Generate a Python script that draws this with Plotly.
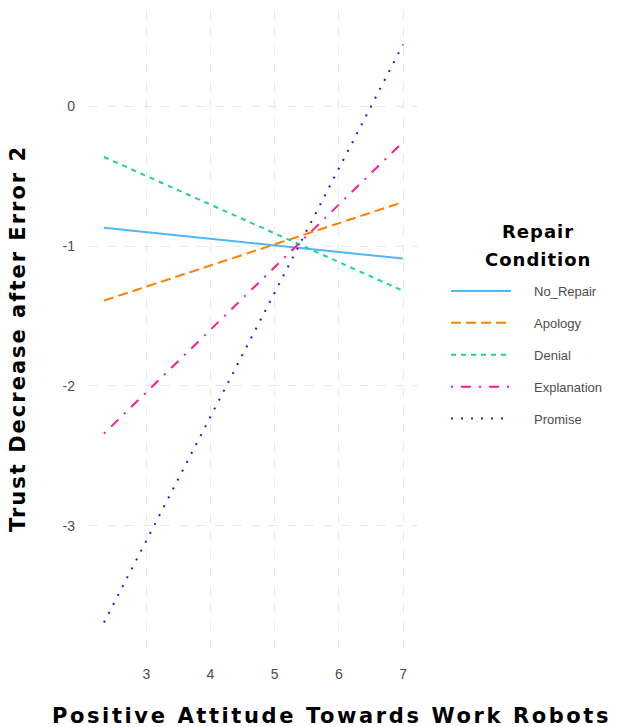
import plotly.graph_objects as go

conditions = ["No_Repair", "Apology", "Denial", "Explanation", "Promise"]
x_vals = [2.34, 7.0]
y_start = [-0.87, -1.39, -0.364, -2.34, -3.69]
y_end = [-1.09, -0.686, -1.32, -0.257, 0.44]
colors = ["#4DB8F5", "#FF8000", "#1AD68A", "#FF1A8C", "#1A1AFF"]
dashes = ["solid", "10px,5px", "5px,5px", "2px,8px,10px,8px", "2px,8px"]
x_ticks = [3, 4, 5, 6, 7]
y_ticks = [0, -1, -2, -3]
y_tick_text = ["0", "-1", "-2", "-3"]
legend_title_lines = ["Repair", "Condition"]

L, R, T, B = 89, 200, 10, 77
W, H = 618, 727
pw, ph = W - L - R, H - T - B


def px_x(p):
    return (p - L) / pw


def px_y(p):
    return (H - B - p) / ph


fig = go.Figure()
for i, name in enumerate(conditions):
    fig.add_trace(go.Scatter(
        x=x_vals, y=[y_start[i], y_end[i]], mode="lines",
        name="\u00a0\u00a0\u00a0\u00a0\u00a0" + name,
        legendgroup=name,
        line=dict(color=colors[i], width=2, dash=dashes[i]),
    ))

title_font = dict(family="DejaVu Sans", size=21, color="#000000")

fig.add_annotation(
    text='<b><span style="letter-spacing:2.6px">Positive Attitude Towards Work Robots</span></b>',
    xref="paper", yref="paper", x=px_x(50), y=px_y(716),
    xanchor="left", yanchor="middle", showarrow=False, font=title_font,
)
fig.add_annotation(
    text='<b><span style="letter-spacing:2px">Trust Decrease after Error 2</span></b>',
    xref="paper", yref="paper", x=px_x(18), y=px_y(339),
    xanchor="center", yanchor="middle", textangle=-90, showarrow=False,
    font=title_font,
)
for line_text, ypix in zip(legend_title_lines, [231, 259]):
    fig.add_annotation(
        text='<b><span style="letter-spacing:1px">' + line_text + '</span></b>',
        xref="paper", yref="paper", x=px_x(538), y=px_y(ypix),
        xanchor="center", yanchor="middle", showarrow=False,
        font=dict(family="DejaVu Sans", size=18, color="#000000"),
    )

fig.update_layout(
    width=W, height=H,
    paper_bgcolor="white", plot_bgcolor="white",
    margin=dict(l=L, r=R, t=T, b=B),
    font=dict(family="Liberation Sans, Arial", size=13, color="#4D4D4D"),
    xaxis=dict(
        range=[2.107, 7.233], tickvals=x_ticks, showgrid=True,
        gridcolor="#E8E8E8", griddash="dash", gridwidth=1, zeroline=False,
        showline=False, ticks="", ticklen=0, automargin=False,
        ticklabelstandoff=14,
        tickfont=dict(size=14, color="#4D4D4D"),
    ),
    yaxis=dict(
        range=[-3.886, 0.686], tickvals=y_ticks, ticktext=y_tick_text,
        showgrid=True,
        gridcolor="#E8E8E8", griddash="dash", gridwidth=1, zeroline=False,
        showline=False, ticks="", ticklen=0, automargin=False,
        ticklabelstandoff=13,
        tickfont=dict(size=14, color="#4D4D4D"),
    ),
    legend=dict(
        x=px_x(446), y=px_y(276), xanchor="left", yanchor="top",
        font=dict(size=13, color="#4D4D4D"),
        itemwidth=60, traceorder="grouped", tracegroupgap=12,
        bgcolor="rgba(0,0,0,0)",
    ),
)

fig.write_html("out.html", config={"displayModeBar": False},
               post_script="document.body.style.margin='0';")
